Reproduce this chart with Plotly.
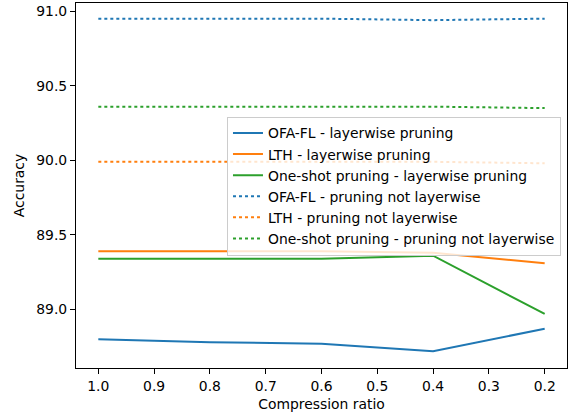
import plotly.graph_objects as go

ratios = [1.0, 0.8, 0.6, 0.4, 0.2]
ofa_layer = [88.80, 88.78, 88.77, 88.72, 88.87]
lth_layer = [89.39, 89.39, 89.39, 89.38, 89.31]
oneshot_layer = [89.34, 89.34, 89.34, 89.36, 88.97]
ofa_global = [90.95, 90.95, 90.95, 90.94, 90.95]
lth_global = [89.99, 89.99, 89.99, 89.99, 89.98]
oneshot_global = [90.36, 90.36, 90.36, 90.36, 90.35]

names = ["OFA-FL - layerwise pruning", "LTH - layerwise pruning",
         "One-shot pruning - layerwise pruning", "OFA-FL - pruning not layerwise",
         "LTH - pruning not layerwise", "One-shot pruning - pruning not layerwise"]
colors = ["#1f77b4", "#ff7f0e", "#2ca02c"]
series = [ofa_layer, lth_layer, oneshot_layer, ofa_global, lth_global, oneshot_global]

fig = go.Figure()
for i, (name, ys) in enumerate(zip(names, series)):
    fig.add_trace(go.Scatter(
        x=ratios, y=ys, mode="lines", name=name,
        line=dict(color=colors[i % 3], width=2, dash="solid" if i < 3 else "dot"),
    ))

font = dict(family="DejaVu Sans", size=13.9, color="black")
fig.update_layout(
    width=570, height=419,
    margin=dict(l=76, r=3, t=3, b=51),
    plot_bgcolor="white", paper_bgcolor="white",
    font=font,
    showlegend=True,
    legend=dict(x=0.3075, y=0.689, xanchor="left", yanchor="top",
                bgcolor="rgba(255,255,255,0.8)", bordercolor="#cccccc", borderwidth=1,
                font=dict(family="DejaVu Sans", size=13.9), tracegroupgap=0,
                itemwidth=30),
)
fig.update_xaxes(
    range=[1.04, 0.16], tickmode="array",
    tickvals=[1.0, 0.9, 0.8, 0.7, 0.6, 0.5, 0.4, 0.3, 0.2],
    ticktext=["1.0", "0.9", "0.8", "0.7", "0.6", "0.5", "0.4", "0.3", "0.2"],
    ticks="outside", ticklen=5, tickcolor="black", showgrid=False, zeroline=False,
    showline=True, linecolor="black", linewidth=1, mirror=True,
    title=dict(text="Compression ratio", font=font, standoff=6),
)
fig.update_yaxes(
    range=[88.607, 91.055], tickmode="array",
    tickvals=[89.0, 89.5, 90.0, 90.5, 91.0],
    ticktext=["89.0", "89.5", "90.0", "90.5", "91.0"],
    ticks="outside", ticklen=5, tickcolor="black", showgrid=False, zeroline=False,
    showline=True, linecolor="black", linewidth=1, mirror=True,
    title=dict(text="Accuracy", font=font, standoff=8),
)
fig.write_html("out.html")
